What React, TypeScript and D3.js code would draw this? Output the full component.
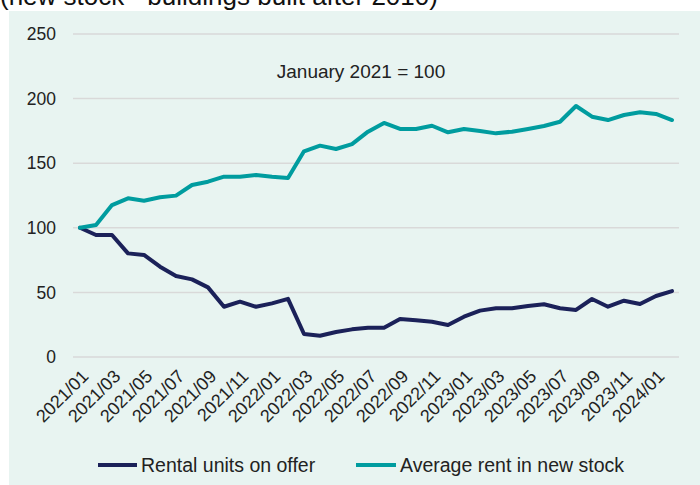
import React from "react";
import * as d3 from "d3";

const months = [
  "2021/01","2021/02","2021/03","2021/04","2021/05","2021/06","2021/07","2021/08","2021/09","2021/10","2021/11","2021/12",
  "2022/01","2022/02","2022/03","2022/04","2022/05","2022/06","2022/07","2022/08","2022/09","2022/10","2022/11","2022/12",
  "2023/01","2023/02","2023/03","2023/04","2023/05","2023/06","2023/07","2023/08","2023/09","2023/10","2023/11","2023/12",
  "2024/01","2024/02",
];

const rentalUnits = [
  100, 94.4, 94.4, 80.2, 79, 69.9, 62.7, 60.1, 53.9, 38.9, 42.8, 38.9,
  41.5, 45, 17.8, 16.5, 19.3, 21.4, 22.7, 22.7, 29.4, 28.5, 27.3, 24.8,
  31.2, 35.9, 37.7, 37.7, 39.5, 40.8, 37.7, 36.4, 44.9, 38.9, 43.6, 41,
  47.2, 51,
];

const averageRent = [
  100, 102.2, 117.6, 122.8, 121, 123.6, 124.9, 133.1, 135.7, 139.6, 139.6, 140.9,
  139.6, 138.6, 159.2, 163.6, 161, 164.8, 174.4, 181.2, 176.5, 176.5, 179, 173.9,
  176.5, 175, 173.1, 174.4, 176.5, 178.8, 182.1, 194.3, 186, 183.4, 187.3, 189.4,
  188.1, 183.4,
];

const yTicks = [0, 50, 100, 150, 200, 250];
const xTickLabels = months.filter((_, i) => i % 2 === 0 && i <= 36);

const seriesNames = ["Rental units on offer", "Average rent in new stock"];
const seriesColors = ["#1B2159", "#009C9F"];

const FONT = "'Liberation Sans', Arial, sans-serif";

export default function App() {
  const W = 700, H = 485;
  const x = d3.scaleBand<string>().domain(months).range([72, 680]);
  const y = d3.scaleLinear().domain([0, 250]).range([357, 34]);
  const cx = (m: string) => (x(m) as number) + x.bandwidth() / 2;

  const line = d3
    .line<number>()
    .x((_, i) => cx(months[i]))
    .y((v) => y(v));

  const series = [rentalUnits, averageRent];

  return (
    <svg width={W} height={H} style={{ position: "absolute", left: 0, top: 0, display: "block" }}>
      <rect x={0} y={0} width={W} height={H} fill="#ffffff" />
      <rect x={9} y={11} width={W - 9} height={H - 11} fill="#E8F4F1" />
      <text x={0} y={5} fontFamily={FONT} fontSize={26} fill="#111">
        (new stock - buildings built after 2010)
      </text>

      {yTicks.map((t) => (
        <g key={t}>
          <line x1={73} x2={679} y1={y(t)} y2={y(t)} stroke="#D9D9D9" strokeWidth={1.5} />
          <text
            x={56}
            y={y(t)}
            dy="0.35em"
            textAnchor="end"
            fontFamily={FONT}
            fontSize={17.5}
            fill="#222"
          >
            {t}
          </text>
        </g>
      ))}

      {xTickLabels.map((m) => (
        <text
          key={m}
          transform={`translate(${cx(m) + 5},${373}) rotate(-45)`}
          textAnchor="end"
          dy="0.35em"
          fontFamily={FONT}
          fontSize={18}
          fill="#222"
        >
          {m}
        </text>
      ))}

      <text x={361} y={71} dy="0.35em" textAnchor="middle" fontFamily={FONT} fontSize={19} fill="#222">
        January 2021 = 100
      </text>

      {series.map((s, i) => (
        <path
          key={i}
          d={line(s) as string}
          fill="none"
          stroke={seriesColors[i]}
          strokeWidth={4}
          strokeLinejoin="round"
          strokeLinecap="round"
        />
      ))}

      {[
        { x1: 98, x2: 137, tx: 141 },
        { x1: 356, x2: 396, tx: 400 },
      ].map((l, i) => (
        <g key={i}>
          <line x1={l.x1} x2={l.x2} y1={465} y2={465} stroke={seriesColors[i]} strokeWidth={4} />
          <text x={l.tx} y={465} dy="0.35em" fontFamily={FONT} fontSize={19.5} fill="#222">
            {seriesNames[i]}
          </text>
        </g>
      ))}
    </svg>
  );
}
